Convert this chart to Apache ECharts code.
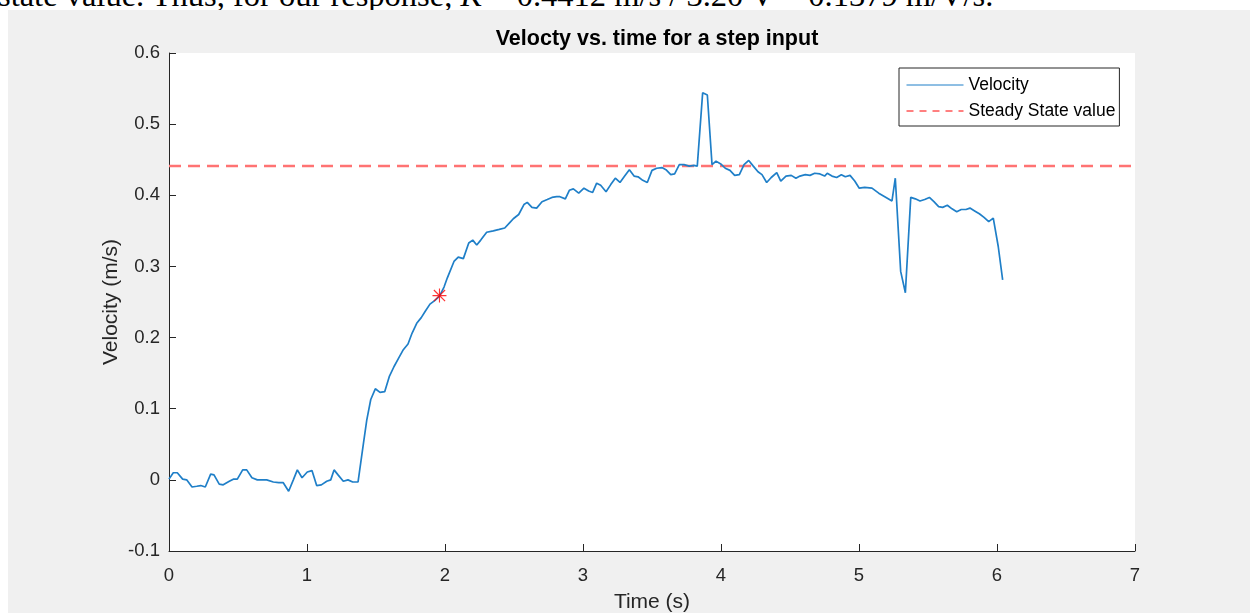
<!DOCTYPE html>
<html>
<head>
<meta charset="utf-8">
<script src="https://cdn.jsdelivr.net/npm/echarts@6/dist/echarts.min.js"></script>
<style>
  html, body { margin: 0; padding: 0; background: #ffffff; width: 1250px; height: 613px; overflow: hidden; }
  #doc { position: absolute; left: 0; top: 0; width: 1250px; height: 10px; overflow: hidden; }
  #docText { position: absolute; left: -2px; top: -21px; font-family: 'Liberation Serif', serif; font-size: 32.5px; line-height: 1; white-space: nowrap; color: #000; }
  #chart { position: absolute; left: 8px; top: 10px; width: 1242px; height: 603px; }
</style>
</head>
<body>
<div id="doc"><div id="docText">state value. Thus, for our response, <i>K</i> = 0.4412 m/s / 3.20 V = 0.1379 m/V/s.</div></div>
<div id="chart"></div>
<script>
// ---- data ----
const titleText = 'Velocty vs. time for a step input';
const xAxisName = 'Time (s)';
const yAxisName = 'Velocity (m/s)';
const seriesNames = ['Velocity', 'Steady State value'];

const timeS = [
  0.000,0.031,0.060,0.099,0.128,0.167,0.201,0.230,0.263,0.302,0.326,0.364,0.393,0.437,0.466,0.495,0.534,0.563,0.601,0.640,
  0.674,0.708,0.756,0.795,0.828,0.867,0.901,0.930,0.964,1.002,1.036,1.070,1.104,1.143,1.172,1.196,1.225,1.263,1.297,1.331,1.370,
  1.408,1.433,1.462,1.495,1.529,1.563,1.596,1.630,1.664,1.698,1.732,1.761,1.795,1.828,1.857,1.891,1.925,1.959,1.993,2.017,2.065,2.096,2.133,
  2.172,2.201,2.230,2.259,2.302,2.350,2.393,2.433,2.471,2.495,2.534,2.572,2.596,2.630,2.664,2.703,2.741,2.775,2.809,2.833,
  2.872,2.901,2.930,2.969,3.007,3.041,3.070,3.099,3.128,3.167,3.201,3.234,3.268,3.302,3.336,3.370,3.399,3.433,3.466,3.500,
  3.534,3.572,3.601,3.636,3.664,3.698,3.732,3.770,3.804,3.828,
  3.867,3.901,3.935,3.964,3.998,4.031,4.065,4.099,4.133,4.167,4.201,4.234,4.268,4.297,4.331,4.364,4.404,4.433,4.471,4.509,
  4.543,4.572,4.611,4.645,4.679,4.717,4.751,4.770,4.804,4.838,4.872,4.901,4.935,4.969,5.002,5.041,5.094,5.143,5.196,5.239,
  5.263,5.302,5.336,5.375,5.408,5.442,5.476,5.510,5.543,5.577,5.606,5.640,5.674,5.708,5.741,5.775,5.804,5.838,5.872,5.906,
  5.940,5.973,6.009,6.041
];
const velocity = [
  0.001,0.010,0.010,0.001,0.000,-0.010,-0.009,-0.008,-0.010,0.008,0.007,-0.006,-0.007,-0.002,0.001,0.001,0.014,0.014,0.003,0.000,
  0.000,0.000,-0.003,-0.004,-0.004,-0.016,0.000,0.014,0.003,0.011,0.013,-0.008,-0.007,-0.002,0.000,0.014,0.007,-0.002,0.000,-0.003,-0.003,
  0.050,0.084,0.113,0.128,0.123,0.124,0.145,0.159,0.171,0.183,0.191,0.206,0.220,0.228,0.237,0.247,0.252,0.258,0.271,0.284,0.307,0.313,0.311,
  0.333,0.337,0.330,0.337,0.348,0.350,0.352,0.354,0.362,0.367,0.373,0.387,0.390,0.383,0.382,0.391,0.394,0.397,0.398,0.398,
  0.395,0.407,0.409,0.403,0.410,0.406,0.404,0.417,0.414,0.405,0.415,0.424,0.418,0.427,0.436,0.427,0.426,0.421,0.418,0.435,
  0.438,0.439,0.436,0.429,0.430,0.443,0.443,0.441,0.442,0.441,
  0.544,0.541,0.443,0.448,0.444,0.438,0.435,0.428,0.429,0.443,0.449,0.441,0.433,0.429,0.418,0.425,0.432,0.420,0.427,0.428,
  0.424,0.427,0.429,0.428,0.431,0.430,0.427,0.431,0.427,0.425,0.429,0.426,0.428,0.420,0.410,0.411,0.410,0.403,0.397,0.392,
  0.424,0.293,0.263,0.397,0.395,0.392,0.394,0.397,0.391,0.384,0.383,0.386,0.381,0.377,0.380,0.380,0.382,0.378,0.374,0.369,
  0.363,0.368,0.328,0.281
];
const steadyStateValue = 0.4412;
const steadyStateSpan = [0, 7];
const markerTime = [1.96];
const markerVelocity = [0.259];
const xRange = { min: 0, max: 7, step: 1 };
const yRange = { min: -0.1, max: 0.6, step: 0.1 };

// ---- chart ----
const axisColor = '#262626';
const font = 'Liberation Sans';
const lineBlue = '#1f7fc8';
const asteriskPath = 'path://M9.2 0H10.8V20H9.2Z M0 9.2H20V10.8H0Z M2.6 1.4L18.6 17.4L17.4 18.6L1.4 2.6Z M17.4 1.4L18.6 2.6L2.6 18.6L1.4 17.4Z';

const chart = echarts.init(document.getElementById('chart'), null, { renderer: 'canvas' });
chart.setOption({
  backgroundColor: '#f0f0f0',
  animation: false,
  title: {
    text: titleText, left: 644, top: 13, textAlign: 'center',
    textStyle: { fontFamily: font, fontSize: 21.5, fontWeight: 'bold', color: '#000' }
  },
  grid: {
    left: 161, right: 115, top: 43, bottom: 62, outerBoundsMode: 'none', containLabel: false,
    show: true, backgroundColor: '#ffffff', borderWidth: 0
  },
  legend: {
    orient: 'vertical', left: 891, top: 58,
    padding: [8, 4, 6, 7], itemGap: 8, itemWidth: 57, itemHeight: 15,
    backgroundColor: '#ffffff', borderColor: axisColor, borderWidth: 1, borderRadius: 0,
    itemStyle: { opacity: 0 },
    lineStyle: { width: 1, opacity: 1 },
    textStyle: { fontFamily: font, fontSize: 17.5, color: '#000' },
    data: seriesNames
  },
  xAxis: {
    type: 'value', min: xRange.min, max: xRange.max, interval: xRange.step,
    name: xAxisName, nameLocation: 'middle', nameGap: 41,
    nameTextStyle: { fontFamily: font, fontSize: 21, color: axisColor },
    axisLine: { onZero: false, lineStyle: { color: axisColor, width: 1 } },
    axisTick: { inside: true, length: 7, lineStyle: { color: axisColor } },
    axisLabel: { margin: 15, fontFamily: font, fontSize: 18.5, color: axisColor },
    splitLine: { show: false }
  },
  yAxis: {
    type: 'value', min: yRange.min, max: yRange.max, interval: yRange.step,
    name: yAxisName, nameLocation: 'middle', nameGap: 47, nameMoveOverlap: false,
    nameTextStyle: { fontFamily: font, fontSize: 21, color: axisColor },
    axisLine: { show: true, onZero: false, lineStyle: { color: axisColor, width: 1 } },
    axisTick: { show: true, inside: true, length: 7, lineStyle: { color: axisColor } },
    axisLabel: { margin: 9, fontFamily: font, fontSize: 18.5, color: axisColor },
    splitLine: { show: false }
  },
  series: [
    {
      name: seriesNames[0], type: 'line', symbol: 'none', showSymbol: false, z: 3,
      data: timeS.map((t, i) => [t, velocity[i]]),
      lineStyle: { color: lineBlue, width: 1.7 }, itemStyle: { color: lineBlue }
    },
    {
      // legend entry for the steady-state line (thin pure red dashes, as in the legend box)
      name: seriesNames[1], type: 'line', symbol: 'none', showSymbol: false,
      data: [],
      lineStyle: { color: '#ff0000', width: 1, type: [7, 6] }, itemStyle: { color: '#ff0000' }
    },
    {
      name: 'steadyLine', type: 'line', symbol: 'none', showSymbol: false, z: 2, silent: true,
      data: steadyStateSpan.map(t => [t, steadyStateValue]),
      lineStyle: { color: '#ff7373', width: 2.5, type: [12, 7] }, itemStyle: { color: '#ff7373' }
    },
    {
      name: 'marker', type: 'scatter', z: 4, silent: true,
      data: markerTime.map((t, i) => [t, markerVelocity[i]]),
      symbol: asteriskPath, symbolSize: 14, itemStyle: { color: '#ff0000' }
    }
  ]
});
</script>
</body>
</html>
